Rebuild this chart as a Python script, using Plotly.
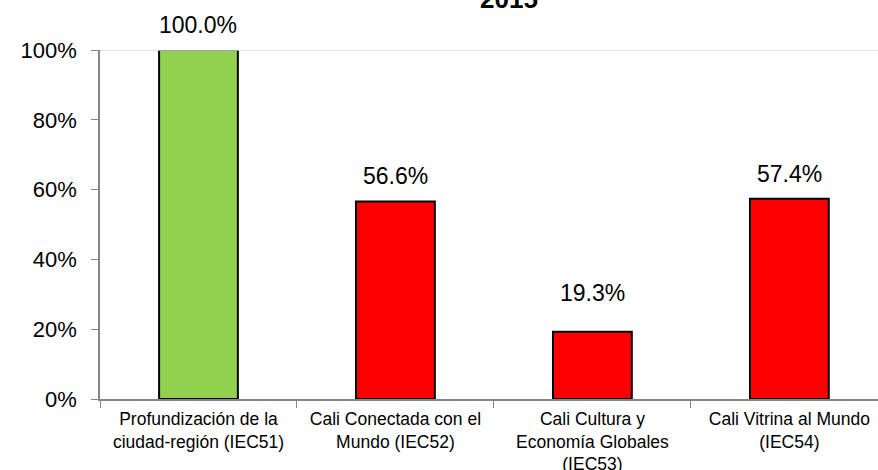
import plotly.graph_objects as go

categories = [
    "Profundización de la<br>ciudad-región (IEC51)",
    "Cali Conectada con el<br>Mundo (IEC52)",
    "Cali Cultura y<br>Economía Globales<br>(IEC53)",
    "Cali Vitrina al Mundo<br>(IEC54)",
]
values = [1.000, 0.566, 0.193, 0.574]
colors = ["#92D050", "#FF0000", "#FF0000", "#FF0000"]
title_text = "2015"

FONT = "Liberation Sans, Arial, sans-serif"

fig = go.Figure()

fig.add_trace(go.Bar(
    x=categories, y=values,
    width=0.4,
    marker=dict(color=colors, line=dict(color="black", width=2)),
    hoverinfo="skip",
))

# value labels above the bars (the small one sits a bit higher in the original)
for c, v in zip(categories, values):
    fig.add_annotation(
        x=c, y=v, xref="x", yref="y",
        text=f"{v * 100:.1f}%", showarrow=False,
        yanchor="bottom", yshift=24 if v < 0.3 else 10,
        font=dict(family=FONT, size=23, color="black"),
    )

# title (mostly cut off at the top of the image)
fig.add_annotation(
    x=0.526, y=1.098, xref="paper", yref="paper",
    text=f"<b>{title_text}</b>", showarrow=False,
    yanchor="bottom", xanchor="center",
    font=dict(family=FONT, size=26, color="black"),
)

fig.update_layout(
    width=878, height=470,
    margin=dict(l=100, r=0, t=50, b=71),
    paper_bgcolor="white", plot_bgcolor="white",
    showlegend=False,
    font=dict(family=FONT, color="black"),
    shapes=[dict(type="line", xref="paper", yref="y", x0=0, x1=1, y0=1, y1=1,
                 line=dict(color="#D9D9D9", width=1.5))],
    xaxis=dict(
        type="category", range=[-0.5, 3.45], automargin=False,
        tickson="boundaries", ticks="outside", ticklen=7, tickwidth=1.2, tickcolor="#868686",
        showline=True, linecolor="#868686", linewidth=1.5,
        showgrid=False, tickfont=dict(family=FONT, size=17.5, color="black"),
        tickangle=0, ticklabelstandoff=3,
    ),
    yaxis=dict(
        range=[0, 1], tickvals=[0, 0.2, 0.4, 0.6, 0.8, 1.0], tickformat=".0%",
        automargin=False,
        ticks="outside", ticklen=7, tickwidth=1.2, tickcolor="#868686",
        showline=True, linecolor="#868686", linewidth=1.5,
        showgrid=False, zeroline=False,
        tickfont=dict(family=FONT, size=22, color="black"),
        ticklabelstandoff=10,
    ),
)

# drop the default 8px body margin so the figure fills the window
fig.write_html("out.html", config={"displayModeBar": False},
               post_script="document.body.style.margin='0';")
